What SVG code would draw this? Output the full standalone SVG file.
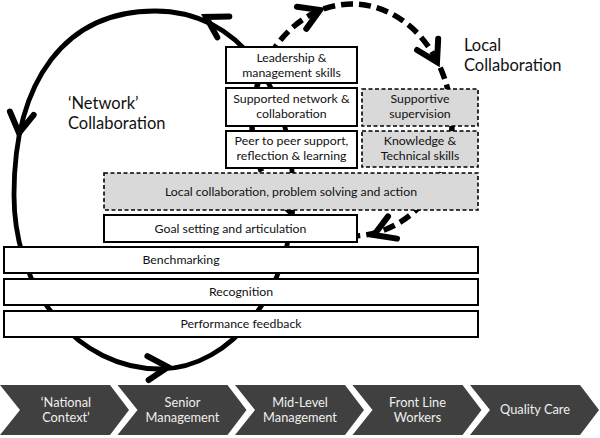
<svg xmlns="http://www.w3.org/2000/svg" width="600" height="438" viewBox="0 0 600 438">
<style>
text{font-family:Lato,"Liberation Sans",sans-serif;text-anchor:middle}
.bx{fill:#fff;stroke:#000;stroke-width:2}
.dbx{fill:#d9d9d9;stroke:#000;stroke-width:1.6;stroke-dasharray:4 2.5}
.t{font-size:12.3px;fill:#111}
.lbl{font-size:16.5px;fill:#111;text-anchor:start}
.chev{fill:#404040}
.ct{font-size:12.8px;fill:#efefef}
.loop{fill:none;stroke:#000;stroke-width:4.8}
.dloop{fill:none;stroke:#000;stroke-width:5.5;stroke-dasharray:12 6}
.ah{fill:none;stroke:#000;stroke-width:6;stroke-linejoin:miter;stroke-linecap:round}
</style>
<defs>
<path id="head" d="M-20,-12 L0,0 L-20,12"/>
</defs>
<g id="connectors">
<path id="network-loop" class="loop" d="M293,195 C293,84.6 237.8,11 155,11 C66.2,11 14,79.1 14,195 C14,292.4 78.2,369 160,369 C231.8,369 293,289 293,195 Z"/>
<path id="local-loop" class="dloop" d="M252,124 A100,120 0 0 1 452,124 A100,112 0 0 1 252,124 Z"/>
<use href="#head" class="ah" transform="translate(206,17) rotate(210)"/>
<use href="#head" class="ah" transform="translate(19,133) rotate(98)"/>
<use href="#head" class="ah" transform="translate(168,367) rotate(-3)"/>
<use href="#head" class="ah" transform="translate(320,10) rotate(-23)"/>
<use href="#head" class="ah" transform="translate(437,62) rotate(62)"/>
<use href="#head" class="ah" transform="translate(374,235) rotate(158)"/>
</g>
<g id="label-network"><text class="lbl" x="68" y="109">‘Network’</text><text class="lbl" x="68" y="129">Collaboration</text></g>
<g id="label-local"><text class="lbl" x="464" y="51">Local</text><text class="lbl" x="464" y="71">Collaboration</text></g>
<g id="leadership"><rect class="bx" x="226" y="47" width="131" height="36"/><text class="t" x="291.5" y="62">Leadership &amp;</text><text class="t" x="291.5" y="77">management skills</text></g>
<g id="supported-network"><rect class="bx" x="226" y="88" width="131" height="38"/><text class="t" x="291.5" y="103">Supported network &amp;</text><text class="t" x="291.5" y="118">collaboration</text></g>
<g id="peer"><rect class="bx" x="226" y="131" width="131" height="37"/><text class="t" x="291.5" y="145">Peer to peer support,</text><text class="t" x="291.5" y="160">reflection &amp; learning</text></g>
<g id="supportive-supervision"><rect class="dbx" x="362" y="89" width="116" height="37"/><text class="t" x="420" y="103">Supportive</text><text class="t" x="420" y="118">supervision</text></g>
<g id="knowledge"><rect class="dbx" x="362" y="131" width="116" height="36"/><text class="t" x="420" y="145">Knowledge &amp;</text><text class="t" x="420" y="160">Technical skills</text></g>
<g id="local-collaboration"><rect class="dbx" x="104" y="173" width="374" height="37"/><text class="t" x="291" y="196">Local collaboration, problem solving and action</text></g>
<g id="goal-setting"><rect class="bx" x="104" y="215" width="253" height="27"/><text class="t" x="230.5" y="233">Goal setting and articulation</text></g>
<g id="benchmarking"><rect class="bx" x="4" y="247" width="474" height="26"/><text class="t" x="181" y="264">Benchmarking</text></g>
<g id="recognition"><rect class="bx" x="4" y="279" width="474" height="26"/><text class="t" x="241" y="296">Recognition</text></g>
<g id="performance-feedback"><rect class="bx" x="4" y="311" width="474" height="26"/><text class="t" x="241" y="328">Performance feedback</text></g>
<g id="national-context"><path class="chev" d="M0,385 H110 L129,410 L110,435 H0 L20,410 Z"/><text class="ct" x="66" y="407">‘National</text><text class="ct" x="66" y="422">Context’</text></g>
<g id="senior-management"><path class="chev" d="M117.5,385 H227.5 L246.5,410 L227.5,435 H117.5 L137.5,410 Z"/><text class="ct" x="182.5" y="407">Senior</text><text class="ct" x="182.5" y="422">Management</text></g>
<g id="mid-level-management"><path class="chev" d="M235,385 H345 L364,410 L345,435 H235 L255,410 Z"/><text class="ct" x="300" y="407">Mid-Level</text><text class="ct" x="300" y="422">Management</text></g>
<g id="front-line-workers"><path class="chev" d="M352.5,385 H462.5 L481.5,410 L462.5,435 H352.5 L372.5,410 Z"/><text class="ct" x="417.5" y="407">Front Line</text><text class="ct" x="417.5" y="422">Workers</text></g>
<g id="quality-care"><path class="chev" d="M470,385 H580 L599,410 L580,435 H470 L490,410 Z"/><text class="ct" x="535" y="414">Quality Care</text></g>
</svg>
